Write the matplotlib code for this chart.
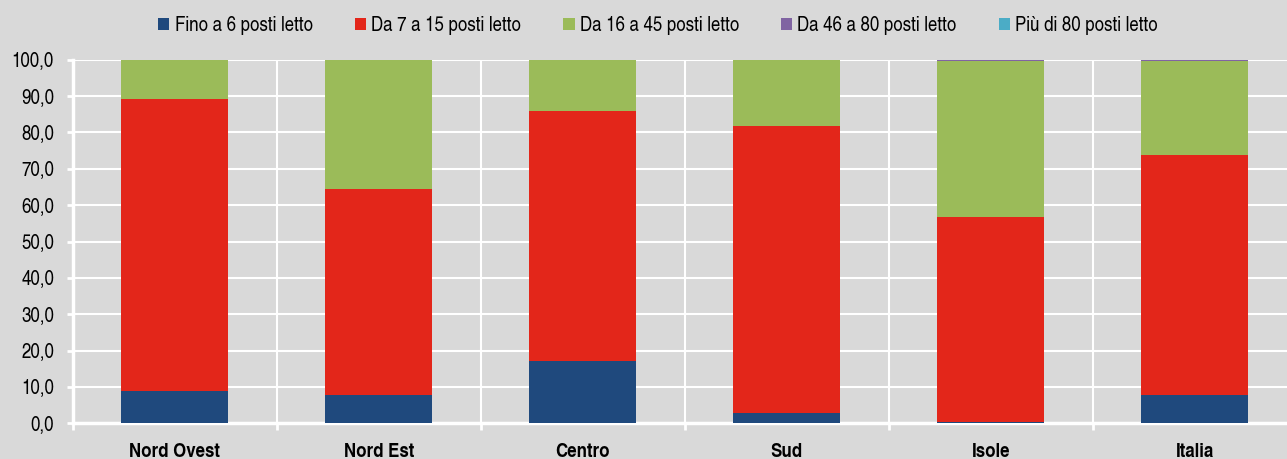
import matplotlib.pyplot as plt
import numpy as np

plt.rcParams['font.family'] = ['TeX Gyre Heros Cn', 'Liberation Sans', 'DejaVu Sans']

regioni = ['Nord Ovest', 'Nord Est', 'Centro', 'Sud', 'Isole', 'Italia']
serie = ['Fino a 6 posti letto', 'Da 7 a 15 posti letto', 'Da 16 a 45 posti letto',
         'Da 46 a 80 posti letto', 'Più di 80 posti letto']
fino6 = [8.8, 7.8, 17.2, 2.8, 0.2, 7.8]
da7a15 = [80.5, 56.7, 68.8, 78.9, 56.5, 66.1]
da16a45 = [10.7, 35.5, 14.0, 18.3, 43.0, 25.9]
da46a80 = [0.0, 0.0, 0.0, 0.0, 0.3, 0.1]
oltre80 = [0.0, 0.0, 0.0, 0.0, 0.0, 0.1]
colori = ['#1f497d', '#e3261a', '#9bbb59', '#8064a2', '#4bacc6']

bg = '#d9d9d9'
W, H = 1287, 459
fig = plt.figure(figsize=(W / 100, H / 100), dpi=100, facecolor=bg)
# the plot area runs slightly past the right edge, as in the original
ax = fig.add_axes([72.7 / W, (H - 423.2) / H, 1224 / W, 363.4 / H], facecolor=bg)

x = np.arange(len(regioni))
base = np.zeros(len(regioni))
for nome, vals, c in zip(serie, [fino6, da7a15, da16a45, da46a80, oltre80], colori):
    ax.bar(x, vals, width=0.527, bottom=base, color=c, label=nome, zorder=3)
    base += np.array(vals)

fs = 14.8
ax.set_xlim(-0.5, len(regioni) - 0.5)
ax.set_ylim(0, 100)
ticks = np.arange(0, 101, 10)
ax.set_yticks(ticks)
ax.set_yticklabels([f'{v:.1f}'.replace('.', ',') for v in ticks], fontsize=fs)
ax.set_xticks(x)
ax.set_xticklabels(regioni, fontsize=fs, fontweight='bold')
ax.tick_params(axis='x', length=0, pad=14)
ax.set_xticks(np.arange(-0.5, len(regioni)), minor=True)
ax.tick_params(axis='x', which='minor', length=5, width=2, color='white')
ax.tick_params(axis='y', length=4, width=2, color='white', pad=9.5)
ax.grid(axis='y', color='white', linewidth=1.5, zorder=0)
ax.grid(axis='x', which='minor', color='white', linewidth=1.5, zorder=0)
for s in ['top', 'right']:
    ax.spines[s].set_visible(False)
for s in ['left', 'bottom']:
    ax.spines[s].set_color('white')
    ax.spines[s].set_linewidth(2.5)

fig.legend(loc='center', bbox_to_anchor=(0.5113, 0.944), ncol=5, frameon=False,
           fontsize=fs, handlelength=0.55, handleheight=0.55, handletextpad=0.25,
           columnspacing=2.05)

fig.savefig('out.png', dpi=100, facecolor=bg)
